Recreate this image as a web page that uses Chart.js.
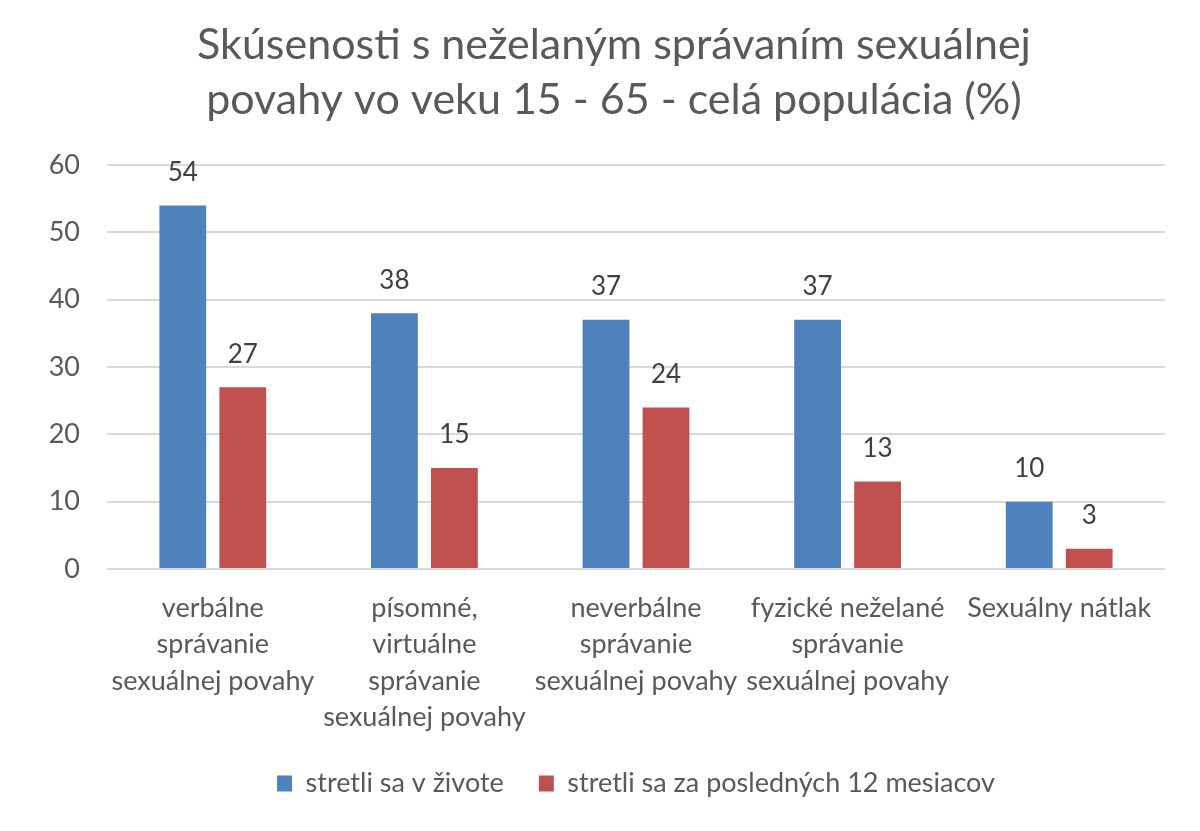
<!DOCTYPE html>
<html><head><meta charset="utf-8">
<script src="https://cdn.jsdelivr.net/npm/chart.js@4"></script>
<style>html,body{margin:0;padding:0;background:#fff}#wrap{width:1200px;height:831px}</style>
</head><body><div id="wrap"><canvas id="c" width="1200" height="831"></canvas></div>
<script>
const categories = [
  ["verbálne","správanie","sexuálnej povahy"],
  ["písomné,","virtuálne","správanie","sexuálnej povahy"],
  ["neverbálne","správanie","sexuálnej povahy"],
  ["fyzické neželané","správanie","sexuálnej povahy"],
  ["Sexuálny nátlak"]
];
const seriesNames = ["stretli sa v živote","stretli sa za posledných 12 mesiacov"];
const lifetime = [54, 38, 37, 37, 10];
const last12 = [27, 15, 24, 13, 3];
const titleLines = ["Skúsenosti s neželaným správaním sexuálnej","povahy vo veku 15 - 65 - celá populácia (%)"];

const FONT = "Lato, 'Open Sans', sans-serif";
const TXT = "#595959";

const labelPlugin = {
  id: 'vals',
  afterDatasetsDraw(chart) {
    const ctx = chart.ctx;
    ctx.save();
    ctx.font = "26px " + FONT;
    ctx.fillStyle = "#404040";
    ctx.textAlign = "center";
    ctx.textBaseline = "middle";
    chart.data.datasets.forEach((ds, i) => {
      chart.getDatasetMeta(i).data.forEach((bar, j) => {
        ctx.fillText(String(ds.data[j]), bar.x, bar.y - 33);
      });
    });
    ctx.restore();
  }
};

const titlePlugin = {
  id: 'titleText',
  afterDraw(chart) {
    const ctx = chart.ctx;
    ctx.save();
    ctx.font = "43px " + FONT;
    ctx.fillStyle = TXT;
    ctx.textAlign = "center";
    ctx.textBaseline = "middle";
    const cx = chart.width / 2 + 14;
    titleLines.forEach((t, i) => ctx.fillText(t, cx, 45 + i * 55));
    ctx.restore();
  }
};

new Chart(document.getElementById('c'), {
  type: 'bar',
  data: {
    labels: categories,
    datasets: [
      {label: seriesNames[0], data: lifetime, backgroundColor: '#4F81BD'},
      {label: seriesNames[1], data: last12, backgroundColor: '#C0504D'}
    ]
  },
  options: {
    responsive: false,
    animation: false,
    layout: {padding: {left: 0, right: 35, top: 165, bottom: 24}},
    categoryPercentage: 0.567,
    barPercentage: 0.78,
    plugins: {
      title: {display: false},
      legend: {position: 'bottom', fullSize: false, labels: {color: TXT, font: {family: FONT, size: 27}, boxWidth: 15, boxHeight: 16, padding: 35}},
      tooltip: {enabled: false}
    },
    scales: {
      x: {
        grid: {display: false, drawTicks: false},
        border: {display: false},
        afterFit(scale) { scale.height = 166; },
        ticks: {color: TXT, font: {family: FONT, size: 27, lineHeight: 1.35}, maxRotation: 0, autoSkip: false, padding: 21}
      },
      y: {
        min: 0, max: 60,
        grid: {color: '#d9d9d9', lineWidth: 2, drawTicks: false},
        border: {display: false},
        afterFit(scale) { scale.width = 107; },
        ticks: {stepSize: 10, color: TXT, font: {family: FONT, size: 27}, padding: 27}
      }
    }
  },
  plugins: [labelPlugin, titlePlugin]
});
</script></body></html>
